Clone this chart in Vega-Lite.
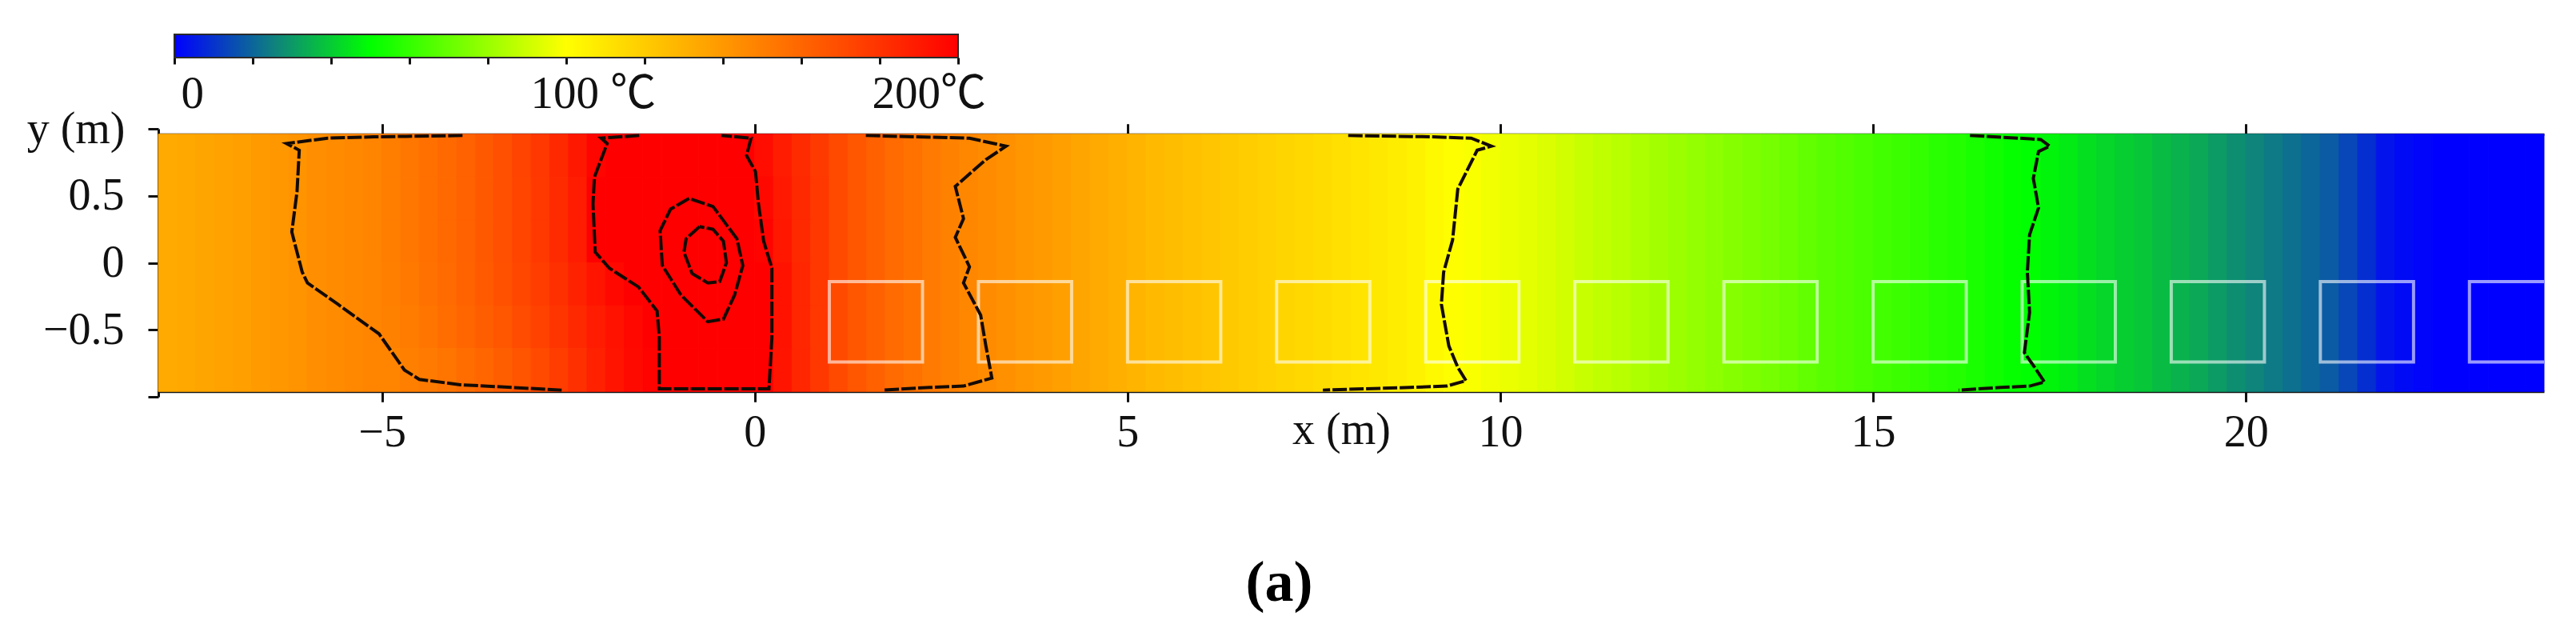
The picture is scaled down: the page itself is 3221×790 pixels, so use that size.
{
  "$schema": "https://vega.github.io/schema/vega-lite/v6.json",
  "background": "white",
  "autosize": {"type": "pad"},
  "padding": {"left": 33, "top": 42, "right": 5, "bottom": 5},
  "bounds": "flush",
  "spacing": 89,
  "title": {"text": "(a)", "orient": "bottom", "anchor": "middle", "font": "Liberation Serif", "fontSize": 72, "fontWeight": "bold", "color": "#000000", "offset": 126, "dx": -9},
  "datasets": {
    "heat": [
      {"x0":-8,"x1":-7.75,"y0":-0.96,"y1":0.96,"t":133},{"x0":-7.75,"x1":-7.5,"y0":-0.96,"y1":0.96,"t":134},{"x0":-7.5,"x1":-7.25,"y0":-0.96,"y1":0.96,"t":135},{"x0":-7.25,"x1":-7,"y0":-0.96,"y1":0.96,"t":136},{"x0":-7,"x1":-6.75,"y0":-0.96,"y1":0.96,"t":137.5},{"x0":-6.75,"x1":-6.5,"y0":-0.96,"y1":0.96,"t":139},{"x0":-6.5,"x1":-6.25,"y0":-0.96,"y1":0.96,"t":140.5},{"x0":-6.25,"x1":-6,"y0":-0.96,"y1":0.96,"t":142},{"x0":-6,"x1":-5.75,"y0":-0.96,"y1":0.96,"t":143.5},{"x0":-5.75,"x1":-5.5,"y0":-0.96,"y1":0.96,"t":145},{"x0":-5.5,"x1":-5.25,"y0":-0.96,"y1":0.96,"t":146.5},{"x0":-5.25,"x1":-5,"y0":-0.96,"y1":0.96,"t":148},

      {"x0":-5,"x1":-4.75,"y0":0.64,"y1":0.96,"t":150.5},{"x0":-4.75,"x1":-4.5,"y0":0.64,"y1":0.96,"t":153},{"x0":-4.5,"x1":-4.25,"y0":0.64,"y1":0.96,"t":156},{"x0":-4.25,"x1":-4,"y0":0.64,"y1":0.96,"t":158.5},{"x0":-4,"x1":-3.75,"y0":0.64,"y1":0.96,"t":161.5},{"x0":-3.75,"x1":-3.5,"y0":0.64,"y1":0.96,"t":165},{"x0":-3.5,"x1":-3.25,"y0":0.64,"y1":0.96,"t":169},{"x0":-3.25,"x1":-3,"y0":0.64,"y1":0.96,"t":173.5},{"x0":-3,"x1":-2.75,"y0":0.64,"y1":0.96,"t":178.5},{"x0":-2.75,"x1":-2.5,"y0":0.64,"y1":0.96,"t":184},{"x0":-2.5,"x1":-2.25,"y0":0.64,"y1":0.96,"t":190.5},{"x0":-2.25,"x1":-2,"y0":0.64,"y1":0.96,"t":198},{"x0":-2,"x1":-1.75,"y0":0.64,"y1":0.96,"t":205},{"x0":-1.75,"x1":-1.5,"y0":0.64,"y1":0.96,"t":212},{"x0":-1.5,"x1":-1.25,"y0":0.64,"y1":0.96,"t":220},{"x0":-1.25,"x1":-1,"y0":0.64,"y1":0.96,"t":225},{"x0":-1,"x1":-0.75,"y0":0.64,"y1":0.96,"t":230},{"x0":-0.75,"x1":-0.5,"y0":0.64,"y1":0.96,"t":230},{"x0":-0.5,"x1":-0.25,"y0":0.64,"y1":0.96,"t":225},{"x0":-0.25,"x1":0,"y0":0.64,"y1":0.96,"t":201},{"x0":0,"x1":0.25,"y0":0.64,"y1":0.96,"t":195},{"x0":0.25,"x1":0.5,"y0":0.64,"y1":0.96,"t":189},{"x0":0.5,"x1":0.75,"y0":0.64,"y1":0.96,"t":183},{"x0":0.75,"x1":1,"y0":0.64,"y1":0.96,"t":177},

      {"x0":-5,"x1":-4.75,"y0":0.32,"y1":0.64,"t":150.5},{"x0":-4.75,"x1":-4.5,"y0":0.32,"y1":0.64,"t":153},{"x0":-4.5,"x1":-4.25,"y0":0.32,"y1":0.64,"t":156},{"x0":-4.25,"x1":-4,"y0":0.32,"y1":0.64,"t":158.5},{"x0":-4,"x1":-3.75,"y0":0.32,"y1":0.64,"t":161.5},{"x0":-3.75,"x1":-3.5,"y0":0.32,"y1":0.64,"t":165},{"x0":-3.5,"x1":-3.25,"y0":0.32,"y1":0.64,"t":169},{"x0":-3.25,"x1":-3,"y0":0.32,"y1":0.64,"t":173},{"x0":-3,"x1":-2.75,"y0":0.32,"y1":0.64,"t":177.5},{"x0":-2.75,"x1":-2.5,"y0":0.32,"y1":0.64,"t":183},{"x0":-2.5,"x1":-2.25,"y0":0.32,"y1":0.64,"t":189},{"x0":-2.25,"x1":-2,"y0":0.32,"y1":0.64,"t":201},{"x0":-2,"x1":-1.75,"y0":0.32,"y1":0.64,"t":210},{"x0":-1.75,"x1":-1.5,"y0":0.32,"y1":0.64,"t":222},{"x0":-1.5,"x1":-1.25,"y0":0.32,"y1":0.64,"t":235},{"x0":-1.25,"x1":-1,"y0":0.32,"y1":0.64,"t":248},{"x0":-1,"x1":-0.75,"y0":0.32,"y1":0.64,"t":258},{"x0":-0.75,"x1":-0.5,"y0":0.32,"y1":0.64,"t":260},{"x0":-0.5,"x1":-0.25,"y0":0.32,"y1":0.64,"t":250},{"x0":-0.25,"x1":0,"y0":0.32,"y1":0.64,"t":225},{"x0":0,"x1":0.25,"y0":0.32,"y1":0.64,"t":197},{"x0":0.25,"x1":0.5,"y0":0.32,"y1":0.64,"t":190},{"x0":0.5,"x1":0.75,"y0":0.32,"y1":0.64,"t":184},{"x0":0.75,"x1":1,"y0":0.32,"y1":0.64,"t":178},

      {"x0":-5,"x1":-4.75,"y0":0,"y1":0.32,"t":150.5},{"x0":-4.75,"x1":-4.5,"y0":0,"y1":0.32,"t":153},{"x0":-4.5,"x1":-4.25,"y0":0,"y1":0.32,"t":156},{"x0":-4.25,"x1":-4,"y0":0,"y1":0.32,"t":158.5},{"x0":-4,"x1":-3.75,"y0":0,"y1":0.32,"t":161.5},{"x0":-3.75,"x1":-3.5,"y0":0,"y1":0.32,"t":165},{"x0":-3.5,"x1":-3.25,"y0":0,"y1":0.32,"t":169},{"x0":-3.25,"x1":-3,"y0":0,"y1":0.32,"t":173},{"x0":-3,"x1":-2.75,"y0":0,"y1":0.32,"t":177.5},{"x0":-2.75,"x1":-2.5,"y0":0,"y1":0.32,"t":183},{"x0":-2.5,"x1":-2.25,"y0":0,"y1":0.32,"t":189},{"x0":-2.25,"x1":-2,"y0":0,"y1":0.32,"t":201},{"x0":-2,"x1":-1.75,"y0":0,"y1":0.32,"t":212},{"x0":-1.75,"x1":-1.5,"y0":0,"y1":0.32,"t":228},{"x0":-1.5,"x1":-1.25,"y0":0,"y1":0.32,"t":250},{"x0":-1.25,"x1":-1,"y0":0,"y1":0.32,"t":275},{"x0":-1,"x1":-0.75,"y0":0,"y1":0.32,"t":305},{"x0":-0.75,"x1":-0.5,"y0":0,"y1":0.32,"t":320},{"x0":-0.5,"x1":-0.25,"y0":0,"y1":0.32,"t":290},{"x0":-0.25,"x1":0,"y0":0,"y1":0.32,"t":240},{"x0":0,"x1":0.25,"y0":0,"y1":0.32,"t":199},{"x0":0.25,"x1":0.5,"y0":0,"y1":0.32,"t":191},{"x0":0.5,"x1":0.75,"y0":0,"y1":0.32,"t":184},{"x0":0.75,"x1":1,"y0":0,"y1":0.32,"t":178},

      {"x0":-5,"x1":-4.75,"y0":-0.32,"y1":0,"t":150},{"x0":-4.75,"x1":-4.5,"y0":-0.32,"y1":0,"t":152.5},{"x0":-4.5,"x1":-4.25,"y0":-0.32,"y1":0,"t":155.5},{"x0":-4.25,"x1":-4,"y0":-0.32,"y1":0,"t":158},{"x0":-4,"x1":-3.75,"y0":-0.32,"y1":0,"t":161},{"x0":-3.75,"x1":-3.5,"y0":-0.32,"y1":0,"t":164.5},{"x0":-3.5,"x1":-3.25,"y0":-0.32,"y1":0,"t":168},{"x0":-3.25,"x1":-3,"y0":-0.32,"y1":0,"t":172},{"x0":-3,"x1":-2.75,"y0":-0.32,"y1":0,"t":176},{"x0":-2.75,"x1":-2.5,"y0":-0.32,"y1":0,"t":181},{"x0":-2.5,"x1":-2.25,"y0":-0.32,"y1":0,"t":186.5},{"x0":-2.25,"x1":-2,"y0":-0.32,"y1":0,"t":192},{"x0":-2,"x1":-1.75,"y0":-0.32,"y1":0,"t":197},{"x0":-1.75,"x1":-1.5,"y0":-0.32,"y1":0,"t":203},{"x0":-1.5,"x1":-1.25,"y0":-0.32,"y1":0,"t":225},{"x0":-1.25,"x1":-1,"y0":-0.32,"y1":0,"t":260},{"x0":-1,"x1":-0.75,"y0":-0.32,"y1":0,"t":300},{"x0":-0.75,"x1":-0.5,"y0":-0.32,"y1":0,"t":310},{"x0":-0.5,"x1":-0.25,"y0":-0.32,"y1":0,"t":280},{"x0":-0.25,"x1":0,"y0":-0.32,"y1":0,"t":240},{"x0":0,"x1":0.25,"y0":-0.32,"y1":0,"t":204},{"x0":0.25,"x1":0.5,"y0":-0.32,"y1":0,"t":193},{"x0":0.5,"x1":0.75,"y0":-0.32,"y1":0,"t":185},{"x0":0.75,"x1":1,"y0":-0.32,"y1":0,"t":178},

      {"x0":-5,"x1":-4.75,"y0":-0.64,"y1":-0.32,"t":149},{"x0":-4.75,"x1":-4.5,"y0":-0.64,"y1":-0.32,"t":151},{"x0":-4.5,"x1":-4.25,"y0":-0.64,"y1":-0.32,"t":154},{"x0":-4.25,"x1":-4,"y0":-0.64,"y1":-0.32,"t":157},{"x0":-4,"x1":-3.75,"y0":-0.64,"y1":-0.32,"t":160},{"x0":-3.75,"x1":-3.5,"y0":-0.64,"y1":-0.32,"t":163},{"x0":-3.5,"x1":-3.25,"y0":-0.64,"y1":-0.32,"t":166},{"x0":-3.25,"x1":-3,"y0":-0.64,"y1":-0.32,"t":170},{"x0":-3,"x1":-2.75,"y0":-0.64,"y1":-0.32,"t":174},{"x0":-2.75,"x1":-2.5,"y0":-0.64,"y1":-0.32,"t":179},{"x0":-2.5,"x1":-2.25,"y0":-0.64,"y1":-0.32,"t":184},{"x0":-2.25,"x1":-2,"y0":-0.64,"y1":-0.32,"t":189},{"x0":-2,"x1":-1.75,"y0":-0.64,"y1":-0.32,"t":193},{"x0":-1.75,"x1":-1.5,"y0":-0.64,"y1":-0.32,"t":197},{"x0":-1.5,"x1":-1.25,"y0":-0.64,"y1":-0.32,"t":200},{"x0":-1.25,"x1":-1,"y0":-0.64,"y1":-0.32,"t":210},{"x0":-1,"x1":-0.75,"y0":-0.64,"y1":-0.32,"t":225},{"x0":-0.75,"x1":-0.5,"y0":-0.64,"y1":-0.32,"t":232},{"x0":-0.5,"x1":-0.25,"y0":-0.64,"y1":-0.32,"t":228},{"x0":-0.25,"x1":0,"y0":-0.64,"y1":-0.32,"t":215},{"x0":0,"x1":0.25,"y0":-0.64,"y1":-0.32,"t":204},{"x0":0.25,"x1":0.5,"y0":-0.64,"y1":-0.32,"t":193},{"x0":0.5,"x1":0.75,"y0":-0.64,"y1":-0.32,"t":185},{"x0":0.75,"x1":1,"y0":-0.64,"y1":-0.32,"t":178},

      {"x0":-5,"x1":-4.75,"y0":-0.96,"y1":-0.64,"t":148},{"x0":-4.75,"x1":-4.5,"y0":-0.96,"y1":-0.64,"t":150},{"x0":-4.5,"x1":-4.25,"y0":-0.96,"y1":-0.64,"t":152},{"x0":-4.25,"x1":-4,"y0":-0.96,"y1":-0.64,"t":154},{"x0":-4,"x1":-3.75,"y0":-0.96,"y1":-0.64,"t":157},{"x0":-3.75,"x1":-3.5,"y0":-0.96,"y1":-0.64,"t":160},{"x0":-3.5,"x1":-3.25,"y0":-0.96,"y1":-0.64,"t":163},{"x0":-3.25,"x1":-3,"y0":-0.96,"y1":-0.64,"t":167},{"x0":-3,"x1":-2.75,"y0":-0.96,"y1":-0.64,"t":171},{"x0":-2.75,"x1":-2.5,"y0":-0.96,"y1":-0.64,"t":176},{"x0":-2.5,"x1":-2.25,"y0":-0.96,"y1":-0.64,"t":181},{"x0":-2.25,"x1":-2,"y0":-0.96,"y1":-0.64,"t":187},{"x0":-2,"x1":-1.75,"y0":-0.96,"y1":-0.64,"t":192},{"x0":-1.75,"x1":-1.5,"y0":-0.96,"y1":-0.64,"t":196},{"x0":-1.5,"x1":-1.25,"y0":-0.96,"y1":-0.64,"t":199},{"x0":-1.25,"x1":-1,"y0":-0.96,"y1":-0.64,"t":205},{"x0":-1,"x1":-0.75,"y0":-0.96,"y1":-0.64,"t":212},{"x0":-0.75,"x1":-0.5,"y0":-0.96,"y1":-0.64,"t":215},{"x0":-0.5,"x1":-0.25,"y0":-0.96,"y1":-0.64,"t":212},{"x0":-0.25,"x1":0,"y0":-0.96,"y1":-0.64,"t":208},{"x0":0,"x1":0.25,"y0":-0.96,"y1":-0.64,"t":202},{"x0":0.25,"x1":0.5,"y0":-0.96,"y1":-0.64,"t":192},{"x0":0.5,"x1":0.75,"y0":-0.96,"y1":-0.64,"t":185},{"x0":0.75,"x1":1,"y0":-0.96,"y1":-0.64,"t":178},

      {"x0":1,"x1":1.25,"y0":-0.96,"y1":0.96,"t":171},{"x0":1.25,"x1":1.5,"y0":-0.96,"y1":0.96,"t":166},{"x0":1.5,"x1":1.75,"y0":-0.96,"y1":0.96,"t":162},{"x0":1.75,"x1":2,"y0":-0.96,"y1":0.96,"t":158},{"x0":2,"x1":2.25,"y0":-0.96,"y1":0.96,"t":155},{"x0":2.25,"x1":2.5,"y0":-0.96,"y1":0.96,"t":152},{"x0":2.5,"x1":2.75,"y0":-0.96,"y1":0.96,"t":149},{"x0":2.75,"x1":3,"y0":-0.96,"y1":0.96,"t":147},{"x0":3,"x1":3.25,"y0":-0.96,"y1":0.96,"t":145},{"x0":3.25,"x1":3.5,"y0":-0.96,"y1":0.96,"t":143},{"x0":3.5,"x1":3.75,"y0":-0.96,"y1":0.96,"t":141},{"x0":3.75,"x1":4,"y0":-0.96,"y1":0.96,"t":139},
      {"x0":4,"x1":4.25,"y0":-0.96,"y1":0.96,"t":137},{"x0":4.25,"x1":4.5,"y0":-0.96,"y1":0.96,"t":135},{"x0":4.5,"x1":4.75,"y0":-0.96,"y1":0.96,"t":133},{"x0":4.75,"x1":5,"y0":-0.96,"y1":0.96,"t":131},{"x0":5,"x1":5.25,"y0":-0.96,"y1":0.96,"t":129},{"x0":5.25,"x1":5.5,"y0":-0.96,"y1":0.96,"t":127},{"x0":5.5,"x1":5.75,"y0":-0.96,"y1":0.96,"t":125.5},{"x0":5.75,"x1":6,"y0":-0.96,"y1":0.96,"t":124},{"x0":6,"x1":6.25,"y0":-0.96,"y1":0.96,"t":122.5},{"x0":6.25,"x1":6.5,"y0":-0.96,"y1":0.96,"t":121},{"x0":6.5,"x1":6.75,"y0":-0.96,"y1":0.96,"t":119.5},{"x0":6.75,"x1":7,"y0":-0.96,"y1":0.96,"t":118},
      {"x0":7,"x1":7.25,"y0":-0.96,"y1":0.96,"t":116.5},{"x0":7.25,"x1":7.5,"y0":-0.96,"y1":0.96,"t":115},{"x0":7.5,"x1":7.75,"y0":-0.96,"y1":0.96,"t":113.5},{"x0":7.75,"x1":8,"y0":-0.96,"y1":0.96,"t":112},{"x0":8,"x1":8.25,"y0":-0.96,"y1":0.96,"t":110.5},{"x0":8.25,"x1":8.5,"y0":-0.96,"y1":0.96,"t":109},{"x0":8.5,"x1":8.75,"y0":-0.96,"y1":0.96,"t":107},{"x0":8.75,"x1":9,"y0":-0.96,"y1":0.96,"t":105},{"x0":9,"x1":9.25,"y0":-0.96,"y1":0.96,"t":102.5},{"x0":9.25,"x1":9.5,"y0":-0.96,"y1":0.96,"t":100.5},{"x0":9.5,"x1":9.75,"y0":-0.96,"y1":0.96,"t":99},{"x0":9.75,"x1":10,"y0":-0.96,"y1":0.96,"t":97.5},
      {"x0":10,"x1":10.25,"y0":-0.96,"y1":0.96,"t":96},{"x0":10.25,"x1":10.5,"y0":-0.96,"y1":0.96,"t":94.5},{"x0":10.5,"x1":10.75,"y0":-0.96,"y1":0.96,"t":93},{"x0":10.75,"x1":11,"y0":-0.96,"y1":0.96,"t":91},{"x0":11,"x1":11.25,"y0":-0.96,"y1":0.96,"t":89},{"x0":11.25,"x1":11.5,"y0":-0.96,"y1":0.96,"t":87.5},{"x0":11.5,"x1":11.75,"y0":-0.96,"y1":0.96,"t":86},{"x0":11.75,"x1":12,"y0":-0.96,"y1":0.96,"t":84},{"x0":12,"x1":12.25,"y0":-0.96,"y1":0.96,"t":82},{"x0":12.25,"x1":12.5,"y0":-0.96,"y1":0.96,"t":80.5},{"x0":12.5,"x1":12.75,"y0":-0.96,"y1":0.96,"t":79},{"x0":12.75,"x1":13,"y0":-0.96,"y1":0.96,"t":77.5},
      {"x0":13,"x1":13.25,"y0":-0.96,"y1":0.96,"t":76},{"x0":13.25,"x1":13.5,"y0":-0.96,"y1":0.96,"t":74.5},{"x0":13.5,"x1":13.75,"y0":-0.96,"y1":0.96,"t":73},{"x0":13.75,"x1":14,"y0":-0.96,"y1":0.96,"t":71},{"x0":14,"x1":14.25,"y0":-0.96,"y1":0.96,"t":69},{"x0":14.25,"x1":14.5,"y0":-0.96,"y1":0.96,"t":67.5},{"x0":14.5,"x1":14.75,"y0":-0.96,"y1":0.96,"t":66},{"x0":14.75,"x1":15,"y0":-0.96,"y1":0.96,"t":64.5},{"x0":15,"x1":15.25,"y0":-0.96,"y1":0.96,"t":63},{"x0":15.25,"x1":15.5,"y0":-0.96,"y1":0.96,"t":61.5},{"x0":15.5,"x1":15.75,"y0":-0.96,"y1":0.96,"t":60},{"x0":15.75,"x1":16,"y0":-0.96,"y1":0.96,"t":58},
      {"x0":16,"x1":16.25,"y0":-0.96,"y1":0.96,"t":57},{"x0":16.25,"x1":16.5,"y0":-0.96,"y1":0.96,"t":55},{"x0":16.5,"x1":16.75,"y0":-0.96,"y1":0.96,"t":53},{"x0":16.75,"x1":17,"y0":-0.96,"y1":0.96,"t":51},{"x0":17,"x1":17.25,"y0":-0.96,"y1":0.96,"t":50},{"x0":17.25,"x1":17.5,"y0":-0.96,"y1":0.96,"t":48},{"x0":17.5,"x1":17.75,"y0":-0.96,"y1":0.96,"t":46},{"x0":17.75,"x1":18,"y0":-0.96,"y1":0.96,"t":44},{"x0":18,"x1":18.25,"y0":-0.96,"y1":0.96,"t":42},{"x0":18.25,"x1":18.5,"y0":-0.96,"y1":0.96,"t":40.5},{"x0":18.5,"x1":18.75,"y0":-0.96,"y1":0.96,"t":39},{"x0":18.75,"x1":19,"y0":-0.96,"y1":0.96,"t":37},
      {"x0":19,"x1":19.25,"y0":-0.96,"y1":0.96,"t":35},{"x0":19.25,"x1":19.5,"y0":-0.96,"y1":0.96,"t":33},{"x0":19.5,"x1":19.75,"y0":-0.96,"y1":0.96,"t":30.5},{"x0":19.75,"x1":20,"y0":-0.96,"y1":0.96,"t":28},{"x0":20,"x1":20.25,"y0":-0.96,"y1":0.96,"t":26},{"x0":20.25,"x1":20.5,"y0":-0.96,"y1":0.96,"t":24},{"x0":20.5,"x1":20.75,"y0":-0.96,"y1":0.96,"t":22},{"x0":20.75,"x1":21,"y0":-0.96,"y1":0.96,"t":20},{"x0":21,"x1":21.25,"y0":-0.96,"y1":0.96,"t":18},{"x0":21.25,"x1":21.5,"y0":-0.96,"y1":0.96,"t":14},{"x0":21.5,"x1":21.75,"y0":-0.96,"y1":0.96,"t":9},{"x0":21.75,"x1":22,"y0":-0.96,"y1":0.96,"t":4},
      {"x0":22,"x1":22.25,"y0":-0.96,"y1":0.96,"t":2},{"x0":22.25,"x1":22.5,"y0":-0.96,"y1":0.96,"t":1},{"x0":22.5,"x1":22.75,"y0":-0.96,"y1":0.96,"t":0},{"x0":22.75,"x1":23,"y0":-0.96,"y1":0.96,"t":0},{"x0":23,"x1":23.25,"y0":-0.96,"y1":0.96,"t":0},{"x0":23.25,"x1":23.5,"y0":-0.96,"y1":0.96,"t":0},{"x0":23.5,"x1":23.75,"y0":-0.96,"y1":0.96,"t":0},{"x0":23.75,"x1":24,"y0":-0.96,"y1":0.96,"t":0}
    ],
    "boxes": [
      {"bx":1,"bx2":2.25,"by":-0.74,"by2":-0.14},{"bx":3,"bx2":4.25,"by":-0.74,"by2":-0.14},{"bx":5,"bx2":6.25,"by":-0.74,"by2":-0.14},{"bx":7,"bx2":8.25,"by":-0.74,"by2":-0.14},{"bx":9,"bx2":10.25,"by":-0.74,"by2":-0.14},{"bx":11,"bx2":12.25,"by":-0.74,"by2":-0.14},{"bx":13,"bx2":14.25,"by":-0.74,"by2":-0.14},{"bx":15,"bx2":16.25,"by":-0.74,"by2":-0.14},{"bx":17,"bx2":18.25,"by":-0.74,"by2":-0.14},{"bx":19,"bx2":20.25,"by":-0.74,"by2":-0.14},{"bx":21,"bx2":22.25,"by":-0.74,"by2":-0.14},{"bx":23,"bx2":24.25,"by":-0.74,"by2":-0.14}
    ],
    "cont": [
      {"c":"a","k":1,"x":-3.92,"y":0.95},{"c":"a","k":2,"x":-5.11,"y":0.94},{"c":"a","k":3,"x":-5.73,"y":0.93},{"c":"a","k":4,"x":-6.28,"y":0.89},{"c":"a","k":5,"x":-6.11,"y":0.84},{"c":"a","k":6,"x":-6.14,"y":0.53},{"c":"a","k":7,"x":-6.21,"y":0.23},{"c":"a","k":8,"x":-6.07,"y":-0.07},{"c":"a","k":9,"x":-6.0,"y":-0.15},{"c":"a","k":10,"x":-5.59,"y":-0.31},{"c":"a","k":11,"x":-5.04,"y":-0.53},{"c":"a","k":12,"x":-4.7,"y":-0.8},{"c":"a","k":13,"x":-4.5,"y":-0.87},{"c":"a","k":14,"x":-3.95,"y":-0.91},{"c":"a","k":15,"x":-3.26,"y":-0.93},{"c":"a","k":16,"x":-2.59,"y":-0.95},
      {"c":"b","k":1,"x":-1.55,"y":0.95},{"c":"b","k":2,"x":-2.06,"y":0.93},{"c":"b","k":3,"x":-1.98,"y":0.89},{"c":"b","k":4,"x":-2.15,"y":0.64},{"c":"b","k":5,"x":-2.17,"y":0.44},{"c":"b","k":6,"x":-2.14,"y":0.08},{"c":"b","k":7,"x":-1.95,"y":-0.04},{"c":"b","k":8,"x":-1.56,"y":-0.18},{"c":"b","k":9,"x":-1.31,"y":-0.36},{"c":"b","k":10,"x":-1.28,"y":-0.56},{"c":"b","k":11,"x":-1.28,"y":-0.94},{"c":"b","k":12,"x":0.19,"y":-0.94},{"c":"b","k":13,"x":0.23,"y":-0.56},{"c":"b","k":14,"x":0.23,"y":-0.04},{"c":"b","k":15,"x":0.12,"y":0.16},{"c":"b","k":16,"x":0.05,"y":0.44},{"c":"b","k":17,"x":0.01,"y":0.68},{"c":"b","k":18,"x":-0.11,"y":0.8},{"c":"b","k":19,"x":-0.05,"y":0.93},{"c":"b","k":20,"x":-0.45,"y":0.95},
      {"c":"c","k":1,"x":-0.88,"y":0.48},{"c":"c","k":2,"x":-1.13,"y":0.4},{"c":"c","k":3,"x":-1.27,"y":0.24},{"c":"c","k":4,"x":-1.24,"y":-0.02},{"c":"c","k":5,"x":-0.99,"y":-0.24},{"c":"c","k":6,"x":-0.63,"y":-0.44},{"c":"c","k":7,"x":-0.42,"y":-0.42},{"c":"c","k":8,"x":-0.27,"y":-0.24},{"c":"c","k":9,"x":-0.16,"y":-0.02},{"c":"c","k":10,"x":-0.24,"y":0.18},{"c":"c","k":11,"x":-0.56,"y":0.42},{"c":"c","k":12,"x":-0.88,"y":0.48},
      {"c":"d","k":1,"x":-0.74,"y":0.27},{"c":"d","k":2,"x":-0.92,"y":0.18},{"c":"d","k":3,"x":-0.95,"y":0.08},{"c":"d","k":4,"x":-0.84,"y":-0.08},{"c":"d","k":5,"x":-0.63,"y":-0.15},{"c":"d","k":6,"x":-0.47,"y":-0.14},{"c":"d","k":7,"x":-0.38,"y":0.0},{"c":"d","k":8,"x":-0.42,"y":0.16},{"c":"d","k":9,"x":-0.56,"y":0.25},{"c":"d","k":10,"x":-0.74,"y":0.27},
      {"c":"e","k":1,"x":1.49,"y":0.95},{"c":"e","k":2,"x":2.88,"y":0.93},{"c":"e","k":3,"x":3.37,"y":0.87},{"c":"e","k":4,"x":3.1,"y":0.77},{"c":"e","k":5,"x":2.69,"y":0.57},{"c":"e","k":6,"x":2.8,"y":0.33},{"c":"e","k":7,"x":2.69,"y":0.19},{"c":"e","k":8,"x":2.88,"y":-0.03},{"c":"e","k":9,"x":2.8,"y":-0.15},{"c":"e","k":10,"x":3.03,"y":-0.39},{"c":"e","k":11,"x":3.1,"y":-0.62},{"c":"e","k":12,"x":3.18,"y":-0.86},{"c":"e","k":13,"x":2.8,"y":-0.92},{"c":"e","k":14,"x":2.35,"y":-0.93},{"c":"e","k":15,"x":1.72,"y":-0.95},
      {"c":"f","k":1,"x":7.96,"y":0.95},{"c":"f","k":2,"x":9.09,"y":0.94},{"c":"f","k":3,"x":9.61,"y":0.93},{"c":"f","k":4,"x":9.88,"y":0.87},{"c":"f","k":5,"x":9.69,"y":0.84},{"c":"f","k":6,"x":9.43,"y":0.55},{"c":"f","k":7,"x":9.36,"y":0.17},{"c":"f","k":8,"x":9.24,"y":-0.07},{"c":"f","k":9,"x":9.21,"y":-0.31},{"c":"f","k":10,"x":9.31,"y":-0.62},{"c":"f","k":11,"x":9.43,"y":-0.78},{"c":"f","k":12,"x":9.54,"y":-0.88},{"c":"f","k":13,"x":9.28,"y":-0.92},{"c":"f","k":14,"x":8.79,"y":-0.93},{"c":"f","k":15,"x":7.62,"y":-0.95},
      {"c":"g","k":1,"x":16.3,"y":0.95},{"c":"g","k":2,"x":16.95,"y":0.93},{"c":"g","k":3,"x":17.25,"y":0.92},{"c":"g","k":4,"x":17.37,"y":0.87},{"c":"g","k":5,"x":17.22,"y":0.83},{"c":"g","k":6,"x":17.15,"y":0.63},{"c":"g","k":7,"x":17.22,"y":0.41},{"c":"g","k":8,"x":17.1,"y":0.21},{"c":"g","k":9,"x":17.07,"y":-0.07},{"c":"g","k":10,"x":17.1,"y":-0.37},{"c":"g","k":11,"x":17.03,"y":-0.67},{"c":"g","k":12,"x":17.18,"y":-0.79},{"c":"g","k":13,"x":17.3,"y":-0.89},{"c":"g","k":14,"x":17.1,"y":-0.92},{"c":"g","k":15,"x":16.72,"y":-0.93},{"c":"g","k":16,"x":16.15,"y":-0.95}
    ]
  },
  "vconcat": [
    {
      "width": 1000,
      "height": 29,
      "data": {"values": [{"lo": 0, "hi": 200}]},
      "mark": {
        "type": "rect",
        "color": {"gradient": "linear", "x1": 0, "x2": 1, "y1": 0, "y2": 0,
          "stops": [
            {"offset": 0, "color": "#0000ff"},
            {"offset": 0.125, "color": "#0f7f80"},
            {"offset": 0.25, "color": "#00ff00"},
            {"offset": 0.5, "color": "#ffff00"},
            {"offset": 0.675, "color": "#ffa500"},
            {"offset": 1, "color": "#ff0000"}
          ]},
        "stroke": "#2a2a2a",
        "strokeWidth": 2
      },
      "encoding": {
        "x": {"field": "lo", "type": "quantitative",
          "scale": {"domain": [-4.0816, 200], "nice": false, "zero": false},
          "axis": {"orient": "bottom", "values": [0,20,40,60,80,100,120,140,160,180,200],
            "labelExpr": "datum.value == 0 ? '0' : datum.value == 100 ? '100 ℃' : datum.value == 200 ? '200℃' : ''",
            "labelAlign": "left",
            "labelOffset": {"condition": [{"test": "datum.value == 100", "value": -45}, {"test": "datum.value == 200", "value": -108}], "value": 8},
            "labelOverlap": false, "labelBound": false, "labelFlush": false,
            "labelPadding": 9, "labelFontSize": 57,
            "domain": false, "grid": false, "tickSize": 8, "tickWidth": 3, "title": null}},
        "x2": {"field": "hi"}
      }
    },
    {
      "width": 2983,
      "height": 335,
      "layer": [
        {
          "data": {"name": "heat"},
          "mark": {"type": "rect", "strokeWidth": 1},
          "encoding": {
            "x": {"field": "x0", "type": "quantitative",
              "scale": {"domain": [-8, 24], "nice": false, "zero": false},
              "axis": {"orient": "bottom", "offset": -6.7, "values": [-5,0,5,10,15,20], "format": "~g",
                "tickSize": 13, "labelPadding": 11, "grid": false,
                "title": "x (m)", "titleX": 1479, "titleY": 65, "titleAlign": "center", "titleBaseline": "alphabetic"}},
            "x2": {"field": "x1"},
            "y": {"field": "y0", "type": "quantitative",
              "scale": {"domain": [-1, 1], "nice": false, "zero": false},
              "axis": {"orient": "left", "values": [-1,-0.5,0,0.5,1], "format": "~g",
                "labelExpr": "abs(datum.value) == 1 ? '' : datum.label",
                "tickSize": 13, "labelPadding": 30, "grid": false,
                "title": "y (m)", "titleAngle": 0, "titleAlign": "right", "titleBaseline": "middle", "titleX": -42, "titleY": 0}},
            "y2": {"field": "y1"},
            "color": {"field": "t", "type": "quantitative",
              "scale": {"domain": [0, 25, 50, 100, 135, 200], "range": ["#0000ff", "#0f7f80", "#00ff00", "#ffff00", "#ffa500", "#ff0000"], "clamp": true, "interpolate": "rgb"},
              "legend": null},
            "stroke": {"field": "t", "type": "quantitative",
              "scale": {"domain": [0, 25, 50, 100, 135, 200], "range": ["#0000ff", "#0f7f80", "#00ff00", "#ffff00", "#ffa500", "#ff0000"], "clamp": true, "interpolate": "rgb"},
              "legend": null}
          }
        },
        {
          "data": {"name": "boxes"},
          "mark": {"type": "rect", "filled": false, "color": "#ffffff", "opacity": 0.6, "strokeWidth": 4, "clip": true},
          "encoding": {
            "x": {"field": "bx", "type": "quantitative", "scale": {"domain": [-8, 24], "nice": false, "zero": false}, "axis": null},
            "x2": {"field": "bx2"},
            "y": {"field": "by", "type": "quantitative", "scale": {"domain": [-1, 1], "nice": false, "zero": false}},
            "y2": {"field": "by2"}
          }
        },
        {
          "data": {"name": "cont"},
          "mark": {"type": "line", "color": "#140a04", "strokeWidth": 4, "strokeDash": [18, 3]},
          "encoding": {
            "x": {"field": "x", "type": "quantitative", "scale": {"domain": [-8, 24], "nice": false, "zero": false}, "axis": null},
            "y": {"field": "y", "type": "quantitative", "scale": {"domain": [-1, 1], "nice": false, "zero": false}},
            "detail": {"field": "c", "type": "nominal"},
            "order": {"field": "k", "type": "quantitative"}
          }
        },
        {
          "data": {"values": [{"xt": -8}, {"xt": 24}]},
          "mark": {"type": "point", "opacity": 0},
          "encoding": {
            "x": {"field": "xt", "type": "quantitative",
              "scale": {"domain": [-8, 24], "nice": false, "zero": false},
              "axis": {"orient": "top", "offset": -6.7, "values": [-5,0,5,10,15,20], "labels": false, "tickSize": 13, "title": null, "grid": false}}
          }
        }
      ],
      "resolve": {"scale": {"x": "independent"}}
    }
  ],
  "config": {
    "view": {"stroke": null},
    "axis": {
      "labelFont": "Liberation Serif, Noto Sans CJK SC, serif",
      "labelFontSize": 56,
      "labelColor": "#111111",
      "titleFont": "Liberation Serif, Noto Sans CJK SC, serif",
      "titleFontSize": 56,
      "titleFontWeight": "normal",
      "titleColor": "#111111",
      "domainColor": "#111111",
      "domainWidth": 3,
      "tickColor": "#111111",
      "tickWidth": 3,
      "grid": false,
      "zindex": 1
    }
  }
}
